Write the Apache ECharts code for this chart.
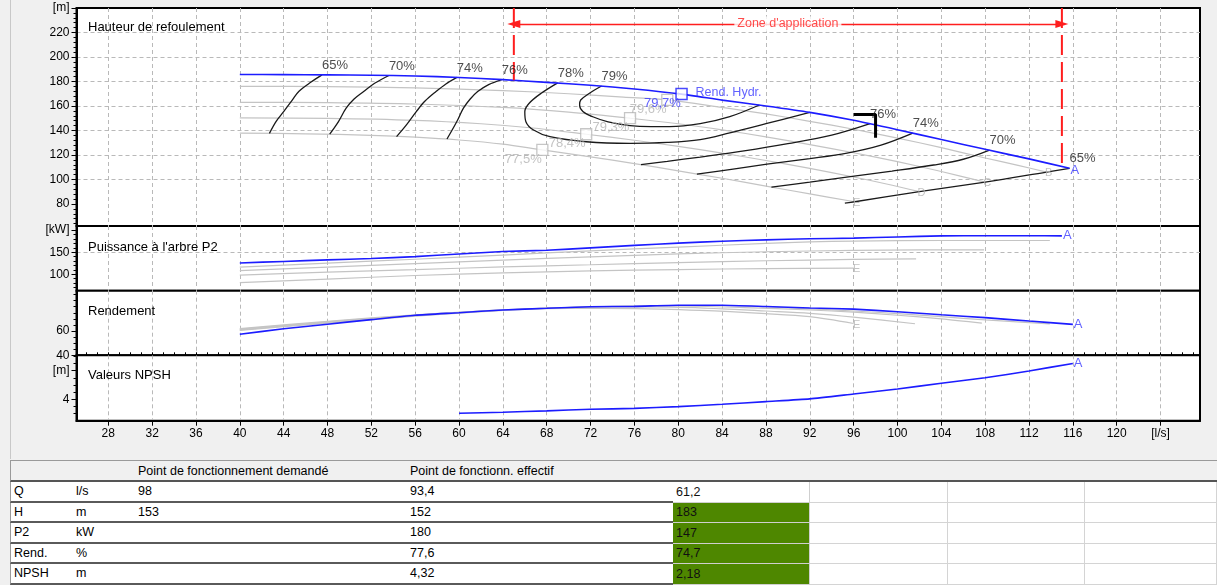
<!DOCTYPE html>
<html>
<head>
<meta charset="utf-8">
<script src="https://cdn.jsdelivr.net/npm/echarts@6.0.0/dist/echarts.min.js"></script>
<style>
html,body{margin:0;padding:0;width:1217px;height:585px;overflow:hidden;background:#f0f0f0;}
#edge{position:absolute;left:10px;top:0;width:1px;height:459px;background:#c8c8c8;}
#chart{position:absolute;left:0;top:0;width:1217px;height:458px;}
#tbl{position:absolute;left:10px;top:460px;width:1207px;height:125px;font-family:"Liberation Sans",Arial,sans-serif;font-size:12.5px;color:#000;}
.c{position:absolute;box-sizing:border-box;padding-left:3px;display:flex;align-items:center;white-space:nowrap;overflow:hidden;}
</style>
</head>
<body>
<div id="edge"></div>
<div id="chart"></div>
<div id="tbl"></div>
<script>
// ---------------- DATA ----------------
const xTicks = [28,32,36,40,44,48,52,56,60,64,68,72,76,80,84,88,92,96,100,104,108,112,116,120,124];
const xUnitTick = 124, xUnit = '[l/s]';
const headTicks = [80,100,120,140,160,180,200,220,240];
const headUnitTick = 240, headUnit = '[m]';
const powerTicks = [100,150,200];
const powerUnitTick = 200, powerUnit = '[kW]';
const rendTicks = [40,60];
const npshTicks = [4,8];
const npshUnitTick = 8, npshUnit = '[m]';

const panelTitles = ['Hauteur de refoulement', "Puissance à l'arbre P2", 'Rendement', 'Valeurs NPSH'];

// Head curves (Q l/s, H m)
const headA = [[40,185.7],[44,185.6],[48,185.4],[52,185.1],[56,184.5],[60,183.3],[64,181.5],[68,179.3],[72,176.9],[76,173.9],[80.3,169.7],[84,164.8],[88,160],[92,154.8],[96,148.3],[100,140.6],[104,132.6],[108,124.6],[112,116.8],[115.7,109.1]];
const headB = [[40,176],[48,175.8],[56,174.8],[64,172.6],[70,170],[75,167.2],[79,165],[84,158.8],[88,153.5],[92,147.5],[96,141],[100,133.8],[104,126],[108,117.5],[111,111.5],[113.6,106]];
const headC = [[40,163],[48,162.7],[56,161.6],[64,158.8],[70,155],[75.6,150],[80,145.5],[84,140.5],[88,134.8],[92,128.5],[96,121.8],[100,114.5],[104,106.5],[108,97.8]];
const headD = [[40,150.3],[48,149.9],[56,148.3],[62,145.5],[67,141.8],[71.6,136.9],[76,132],[80,127],[84,121.5],[88,115.5],[92,109],[96,102],[99,96.3],[102,90]];
const headE = [[40,137.8],[46,137.3],[52,136],[56,134.5],[60,132.2],[64,128.8],[67.6,124.1],[72,118.5],[76,113],[80,107],[84,101],[88,94.6],[92,88.2],[96.1,81.8]];
const curveNames = ['A','B','C','D','E'];

// Iso-efficiency contours
const iso65L = [[42.7,137.6],[43.3,147.3],[44,155.4],[44.8,165],[45.4,172],[46.5,179.5],[47.5,185.4]];
const iso70L = [[48.2,137],[49,147.3],[49.7,158.2],[50.4,165.5],[51.3,171.8],[52.3,178.5],[53.6,184.9]];
const iso74L = [[54.3,135],[55.2,144.6],[56.1,155.4],[56.9,164],[57.9,171.8],[58.8,178],[59.8,183.3]];
const iso76L = [[58.9,133],[59.8,147.3],[60.4,158.2],[61,165.5],[61.7,171.8],[62.7,177.5],[63.9,181.6]];
const iso78 = [[69,178.9],[67.5,170.4],[66.4,162.2],[66,155.3],[66.1,147.2],[66.8,140.4],[68.3,134.9],[71.6,130.8],[75.6,129.5],[79,130.2],[82,132.5],[84.7,138],[88,145.5],[92,154.8]];
const iso79 = [[73,176.3],[71.9,170.4],[71.1,164.9],[71,160.8],[71.3,155.5],[72.2,151.2],[73.6,147],[75.6,144],[77.5,143.2],[79.2,143.2],[82,145.6],[84.7,151.3],[87.4,160.8]];
const iso76R = [[76.6,112.1],[79,114.8],[82,118.3],[86,123.3],[90,129.2],[94,136.2],[97.5,145.6]];
const iso74R = [[81.7,104.4],[85,108.5],[88.1,112.5],[92,117],[95.4,121.5],[98.5,128],[101.4,137.8]];
const iso70R = [[88.5,93.8],[92,97.8],[95.7,102.3],[99.5,106.8],[103.3,111.8],[106,116.5],[108.4,124]];
const iso65R = [[95.2,80.6],[96.1,81.8],[102,90],[108,97.8],[113.6,106],[115.7,109.1]];

// Best efficiency points (A, B, C, D, E)
const bepQ = [80.3, 79, 75.6, 71.6, 67.6];
const bepH = [169.7, 165, 150, 136.9, 124.1];
const bepEff = [79.7, 79.6, 79.3, 78.4, 77.5];
const bepTitle = 'Rend. Hydr.';

// Requested operating point marker
const reqMarker = [[96,153],[98,153],[98,134]];

// Zone d'application
const zoneQ = [65, 115];
const zoneBottomH = [181, 110.5];
const zoneArrowH = 226.9;
const zoneText = "Zone d'application";

// Power P2 (kW)
const powerA = [[40,125.5],[44,129],[48,132.5],[52,135.5],[56,140],[60,146],[64,151.4],[68,154.5],[72,159.8],[76,165.5],[80,170.5],[84,175],[88,178],[92,180.5],[96,182],[100,184.5],[104,187],[108,187.5],[112,187.5],[115,187]];
const powerB = [[40,116],[48,125],[56,134],[64,143.5],[72,153],[80,161.5],[88,170],[92,173.5],[96,175.3],[104,176.5],[113.9,176.5]];
const powerC = [[40,108],[48,116],[56,124],[64,132],[72,139.5],[80,146],[88,151],[96,154],[102,155.2],[107.9,155.2]];
const powerD = [[40,98],[48,104.5],[56,110.5],[64,116.5],[72,121.5],[80,126.5],[88,130.5],[96,133.5],[101.7,134.8]];
const powerE = [[40,81],[48,89],[56,97],[64,103],[72,107.5],[80,110.5],[88,112.8],[96,113.6]];

// Efficiency (%)
const rendA = [[40,57.3],[44,61.8],[48,65.6],[52,69.4],[56,73],[60,75.1],[64,77.3],[68,78.7],[72,80],[76,80.3],[80,81.2],[84,81.2],[88,80.2],[92,79],[96,78],[100,75.9],[104,73.4],[108,71],[112,68.2],[116,65.5]];
const rendB = [[40,60.5],[48,66.5],[56,72.2],[64,77],[72,79.8],[80,81],[84,81],[88,80],[92,78.2],[96,76.5],[100,74.3],[104,71.8],[108,69.2],[113.9,65.8]];
const rendC = [[40,61],[48,67],[56,72.6],[64,77.3],[72,80],[80,80.6],[86,79.3],[92,77.3],[96,75.5],[100,73],[104,70],[107.7,66.5]];
const rendD = [[40,61.5],[48,67.5],[56,73],[64,77.5],[72,79.6],[78,79.8],[84,78.3],[88,76.5],[92,74.6],[96,71.5],[101.6,66]];
const rendE = [[40,62],[48,68],[56,73.3],[64,77.2],[70,78.6],[76,78.5],[82,77],[88,74.3],[92,71.8],[96,66.2]];

// NPSH (m)
const npshA = [[60,2.05],[64,2.19],[68,2.37],[72,2.6],[76,2.72],[80,2.97],[84,3.3],[88,3.67],[92,4.05],[96,4.74],[100,5.44],[104,6.23],[108,7.0],[112,7.95],[116,9.0]];

// Table
const tHeaders = ['', '', 'Point de fonctionnement demandé', 'Point de fonctionn. effectif', '', '', '', ''];
const tRowNames = ['Q','H','P2','Rend.','NPSH'];
const tUnits = ['l/s','m','kW','%','m'];
const tDemand = ['98','153','','',''];
const tEffect = ['93,4','152','180','77,6','4,32'];
const tExtra = ['61,2','183','147','74,7','2,18'];

// ---------------- STYLE / LAYOUT ----------------
const FONT = '"Liberation Sans", Arial, sans-serif';
const BLUE = '#1c1cff', GRAY = '#c4c4c4', GRAYTXT = '#b4b4b4', BLACK = '#1a1a1a', RED = '#ff1e1e';
const X_MIN = 25.1, X_MAX = 127.6;
const yRange = [[62,240],[62.5,209.5],[40,93.2],[1,10.14]];
const gridBoxes = [[8,218],[226,64.7],[290.7,64.6],[355.3,65.4]];
const titleTops = [21, 241, 305, 369];
const range = (a,b,s) => { const r=[]; for(let v=a; v<=b+1e-9; v+=s) r.push(v); return r; };
const minorX = range(26,127,1);
const minorY = [range(64,236,4), range(70,200,10), range(45,90,5), range(2,10,1)];
const majorY = [headTicks, powerTicks, rendTicks, npshTicks];
const unitY = [[headUnitTick,headUnit],[powerUnitTick,powerUnit],[null,null],[npshUnitTick,npshUnit]];
const fmtPct = v => v.toFixed(1).replace('.', ',') + '%';

const xAxes = [];
const yAxes = [];
for (let g = 0; g < 4; g++) {
  const bottom = g === 3;
  xAxes.push({
    gridIndex: g, type: 'value', min: X_MIN, max: X_MAX,
    axisLine: {show: bottom, onZero: false, lineStyle: {color: '#000', width: 2}},
    axisTick: {show: bottom, customValues: xTicks, length: 5, lineStyle: {color: '#000'}},
    axisLabel: {show: bottom, customValues: xTicks, margin: 7, color: '#000', fontSize: 12, fontFamily: FONT,
      formatter: v => v === xUnitTick ? xUnit : String(v)},
    splitLine: {show: true, lineStyle: {color: '#b9b9b9', width: 1, type: [4, 3]}}
  });
  const u = unitY[g];
  yAxes.push({
    gridIndex: g, type: 'value', min: yRange[g][0], max: yRange[g][1],
    axisLine: {show: true, onZero: false, lineStyle: {color: '#000', width: 2}},
    axisTick: {show: true, customValues: majorY[g], length: 5, lineStyle: {color: '#000'}},
    axisLabel: {show: true, customValues: majorY[g], margin: 7, color: '#000', fontSize: 12, fontFamily: FONT,
      formatter: v => v === u[0] ? u[1] : String(v)},
    splitLine: {show: true, showMinLine: false, showMaxLine: false, lineStyle: {color: '#b9b9b9', width: 1, type: [4, 3]}}
  });
}
xAxes.push({
  gridIndex: 3, type: 'value', min: X_MIN, max: X_MAX,
  axisLine: {show: false}, axisTick: {show: true, customValues: minorX, length: 3, lineStyle: {color: '#000'}},
  axisLabel: {show: false}, splitLine: {show: false}
});
for (let g = 0; g < 4; g++) {
  yAxes.push({
    gridIndex: g, type: 'value', min: yRange[g][0], max: yRange[g][1], position: 'left',
    axisLine: {show: false}, axisTick: {show: true, customValues: minorY[g], length: 3, lineStyle: {color: '#000'}},
    axisLabel: {show: false}, splitLine: {show: false}
  });
}

function line(g, data, color, width, z, extra) {
  return Object.assign({
    type: 'line', xAxisIndex: g, yAxisIndex: g, data: data, symbol: 'none', silent: true,
    animation: false, smooth: 0.3, z: z, lineStyle: {color: color, width: width}
  }, extra || {});
}
function labels(g, pts, texts, color, fontSize, z, labelOpt) {
  return {
    type: 'scatter', xAxisIndex: g, yAxisIndex: g, symbolSize: 0, silent: true, animation: false, z: z,
    data: pts.map((p, i) => ({value: p, name: texts[i]})),
    label: Object.assign({show: true, formatter: p => p.name, color: color, fontSize: fontSize, fontFamily: FONT}, labelOpt)
  };
}
const last = a => a[a.length - 1];

const series = [];
// ---- Head panel ----
[headB, headC, headD, headE].forEach(d => series.push(line(0, d, GRAY, 1.2, 3)));
const isoAll = [iso65L, iso70L, iso74L, iso76L, iso78, iso79, iso76R, iso74R, iso70R, iso65R];
isoAll.forEach(d => series.push(line(0, d, BLACK, 1.3, 4, {smooth: 0.35})));
series.push(line(0, headA, BLUE, 1.6, 5, {smooth: 0.2}));
series.push(line(0, reqMarker, '#000', 3, 7, {smooth: false}));
// zone d'application
zoneQ.forEach((q, i) => series.push(line(0, [[q, yRange[0][1]], [q, zoneBottomH[i]]], RED, 2, 6,
  {smooth: false, lineStyle: {color: RED, width: 2, type: [20, 7]}})));
series.push({
  type: 'line', xAxisIndex: 0, yAxisIndex: 0, data: [], silent: true, animation: false, z: 6,
  markLine: {
    silent: true, animation: false, symbol: ['triangle', 'triangle'], symbolSize: [8, 13],
    lineStyle: {color: RED, width: 1.3, type: 'solid'}, label: {show: false},
    data: [[{coord: [zoneQ[0], zoneArrowH]}, {coord: [zoneQ[1], zoneArrowH]}]]
  }
});
series.push(labels(0, [[(zoneQ[0] + zoneQ[1]) / 2, zoneArrowH]], [zoneText], RED, 12.5, 12,
  {position: 'inside', backgroundColor: '#fff', padding: [1, 3]}));
// contour labels
const isoLabelPts = [last(iso65L), last(iso70L), last(iso74L), last(iso76L), iso78[0], iso79[0], last(iso76R), last(iso74R), last(iso70R), last(iso65R)];
const isoLabelTxt = ['65%','70%','74%','76%','78%','79%','76%','74%','70%','65%'];
series.push(labels(0, isoLabelPts, isoLabelTxt, '#202020', 13, 12, {position: [0, -16], align: 'left', verticalAlign: 'top'}));
// BEP squares
const grayBep = [1, 2, 3, 4].map(i => [bepQ[i], bepH[i]]);
series.push({
  type: 'scatter', xAxisIndex: 0, yAxisIndex: 0, silent: true, animation: false, z: 8,
  symbol: 'rect', symbolSize: 11, itemStyle: {color: '#fff', borderColor: '#b8b8b8', borderWidth: 1.3},
  data: grayBep.map((p, i) => ({value: p, name: fmtPct(bepEff[i + 1])})),
  label: {show: true, formatter: p => p.name, position: [5.5, 9], align: 'right', verticalAlign: 'top', color: GRAYTXT, fontSize: 13, fontFamily: FONT}
});
series.push({
  type: 'scatter', xAxisIndex: 0, yAxisIndex: 0, silent: true, animation: false, z: 9,
  symbol: 'rect', symbolSize: 11, itemStyle: {color: '#fff', borderColor: BLUE, borderWidth: 1.5},
  data: [{value: [bepQ[0], bepH[0]], name: fmtPct(bepEff[0])}],
  label: {show: true, formatter: p => p.name, position: [5.5, 9], align: 'right', verticalAlign: 'top', color: '#3a3aff', fontSize: 13, fontFamily: FONT}
});
series.push(labels(0, [[bepQ[0], bepH[0]]], [bepTitle], '#3a3aff', 12.5, 12, {position: [14, -1.5], align: 'left', verticalAlign: 'middle'}));
// curve letters
series.push(labels(0, [last(headB), last(headC), last(headD), last(headE)], curveNames.slice(1), GRAYTXT, 11, 11,
  {position: 'inside', offset: [2, 1]}));
series.push(labels(0, [last(headA)], ['A'], '#3a3aff', 13, 11, {position: 'right', distance: 1, offset: [0, 2]}));

// ---- Power panel ----
[powerB, powerC, powerD, powerE].forEach(d => series.push(line(1, d, GRAY, 1.2, 3)));
series.push(line(1, powerA, BLUE, 1.6, 5, {smooth: 0.2}));
series.push(labels(1, [last(powerA)], ['A'], '#3a3aff', 13, 11, {position: 'right', distance: 1}));
series.push(labels(1, [last(powerE)], ['E'], GRAYTXT, 11, 11, {position: 'inside', offset: [3, 1]}));

// ---- Efficiency panel ----
[rendB, rendC, rendD, rendE].forEach(d => series.push(line(2, d, GRAY, 1.2, 3)));
series.push(line(2, rendA, BLUE, 1.6, 5, {smooth: 0.2}));
series.push(labels(2, [last(rendA)], ['A'], '#3a3aff', 13, 11, {position: 'right', distance: 1}));
series.push(labels(2, [last(rendE)], ['E'], GRAYTXT, 11, 11, {position: 'inside', offset: [3, 1]}));

// ---- NPSH panel ----
series.push(line(3, npshA, BLUE, 1.6, 5, {smooth: 0.2}));
series.push(labels(3, [last(npshA)], ['A'], '#3a3aff', 13, 11, {position: 'right', distance: 1}));

const option = {
  animation: false,
  backgroundColor: 'transparent',
  textStyle: {fontFamily: FONT},
  title: panelTitles.map((t, i) => ({text: t, left: 88, top: titleTops[i], padding: 0,
    textStyle: {fontSize: 13, fontWeight: 'normal', color: '#000', fontFamily: FONT}})),
  grid: gridBoxes.map(b => ({left: 76.5, right: 17, top: b[0], height: b[1], show: true,
    borderColor: '#000', borderWidth: 2, backgroundColor: '#fff', containLabel: false})),
  xAxis: xAxes,
  yAxis: yAxes,
  series: series
};
const chart = echarts.init(document.getElementById('chart'), null, {renderer: 'canvas'});
chart.setOption(option);

// ---------------- TABLE ----------------
const colW = [63, 62, 272, 266, 137, 138, 137, 132];
const colX = []; colW.reduce((acc, w) => { colX.push(acc); return acc + w; }, 0);
const tbl = document.getElementById('tbl');
function cell(x, y, w, h, text, css) {
  const d = document.createElement('div');
  d.className = 'c';
  d.style.left = x + 'px'; d.style.top = y + 'px'; d.style.width = w + 'px'; d.style.height = h + 'px';
  d.textContent = text;
  Object.assign(d.style, css || {});
  tbl.appendChild(d);
}
// header
cell(0, 0, 1207, 22, '', {background: '#f0f0f0', borderTop: '1px solid #9a9a9a', borderBottom: '2px solid #555', borderLeft: '1px solid #9a9a9a'});
tHeaders.forEach((t, i) => { if (t) cell(colX[i], 1, colW[i], 20, t, {}); });
const rowH = 20.5, row0 = 22;
tRowNames.forEach((name, r) => {
  const y = row0 + r * rowH;
  const vals = [name, tUnits[r], tDemand[r], tEffect[r]];
  vals.forEach((v, c) => cell(colX[c], y, colW[c], rowH, v,
    {background: '#fff', borderBottom: '2px solid #5a5a5a', borderLeft: c === 0 ? '1px solid #9a9a9a' : 'none'}));
  cell(colX[4], y, colW[4], rowH, tExtra[r],
    {background: r > 0 ? '#4e8700' : '#fff', color: '#111', borderBottom: '1px solid #cfcfcf', borderRight: '1px solid #cfcfcf'});
  for (let c = 5; c < 8; c++) cell(colX[c], y, colW[c], rowH, '', {background: '#fff', borderBottom: '1px solid #d4d4d4', borderRight: '1px solid #d4d4d4'});
});
</script>
</body>
</html>
